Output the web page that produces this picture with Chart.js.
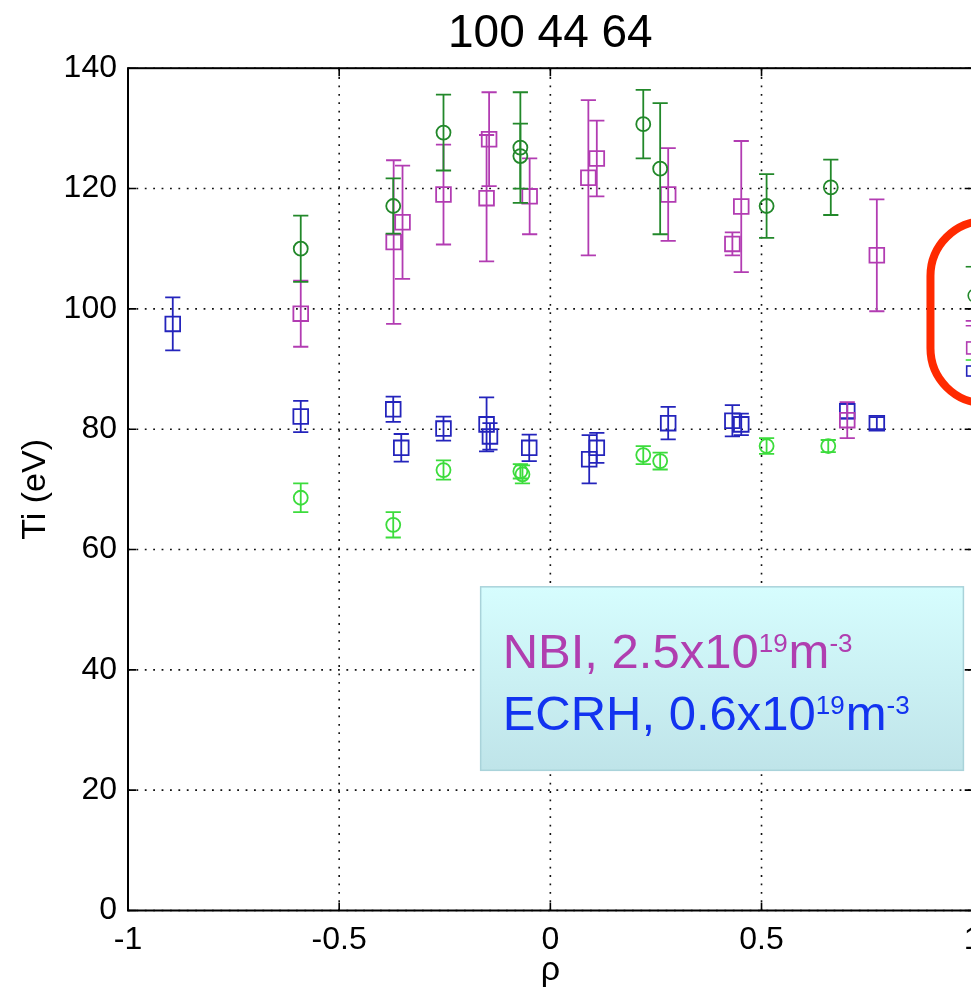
<!DOCTYPE html>
<html>
<head>
<meta charset="utf-8">
<script src="https://cdn.jsdelivr.net/npm/chart.js@4/dist/chart.umd.min.js"></script>
<style>
html,body{margin:0;padding:0;background:#fff;overflow:hidden;}
#wrap{width:971px;height:994px;position:relative;overflow:hidden;}
canvas{display:block;}
</style>
</head>
<body>
<div id="wrap"><canvas id="c" width="1000" height="994"></canvas></div>
<script>
// ---------------- data ----------------
const titleText = '100 44 64';
const xAxisTitle = 'ρ';
const yAxisTitle = 'Ti (eV)';
const xTickValues = [-1, -0.5, 0, 0.5, 1];
const yTickValues = [0, 20, 40, 60, 80, 100, 120, 140];

// NBI, dark green circles
const nbiCircX   = [-0.591, -0.372, -0.253, -0.071, -0.071, 0.220, 0.260, 0.512, 0.664];
const nbiCircY   = [110.0, 117.1, 129.3, 126.8, 125.4, 130.7, 123.3, 117.1, 120.2];
const nbiCircErr = [5.5, 4.6, 6.3, 9.2, 5.4, 5.7, 10.9, 5.3, 4.6];

// NBI, magenta squares
const nbiSqX   = [-0.591, -0.371, -0.350, -0.253, -0.145, -0.151, -0.049, 0.090, 0.110, 0.279, 0.431, 0.452, 0.703, 0.773];
const nbiSqY   = [99.2, 111.1, 114.4, 119.0, 128.2, 118.4, 118.7, 121.8, 125.0, 119.0, 110.8, 117.0, 81.5, 108.9];
const nbiSqErr = [5.5, 13.6, 9.4, 8.3, 7.8, 10.5, 6.3, 12.9, 6.3, 7.7, 1.9, 10.9, 3.0, 9.3];

// ECRH, light green circles
const ecrhCircX   = [-0.591, -0.372, -0.253, -0.071, -0.066, 0.220, 0.260, 0.512, 0.658];
const ecrhCircY   = [68.6, 64.1, 73.2, 73.0, 72.5, 75.7, 74.7, 77.2, 77.2];
const ecrhCircErr = [2.4, 2.1, 1.6, 1.2, 1.5, 1.5, 1.4, 1.3, 1.0];

// ECRH, blue squares
const ecrhSqX   = [-0.894, -0.591, -0.372, -0.353, -0.253, -0.151, -0.143, -0.050, 0.092, 0.110, 0.279, 0.431, 0.452, 0.703, 0.773];
const ecrhSqY   = [97.5, 82.1, 83.3, 76.9, 80.1, 80.8, 78.8, 76.9, 75.0, 76.9, 81.0, 81.4, 80.8, 83.0, 81.0];
const ecrhSqErr = [4.4, 2.6, 2.1, 2.3, 2.0, 4.5, 2.2, 2.2, 4.0, 2.5, 2.7, 2.6, 1.8, 1.2, 1.0];

// annotation text
const noteLine1 = ['NBI, 2.5x10', '19', 'm', '-3'];
const noteLine2 = ['ECRH, 0.6x10', '19', 'm', '-3'];

// ---------------- styling ----------------
const FONT = "'Liberation Sans', Arial, Helvetica, sans-serif";
const C_DKGREEN = '#22882a';
const C_MAGENTA = '#b23cb2';
const C_LTGREEN = '#3cdc3c';
const C_BLUE    = '#2424bc';

function pts(xs, ys) { return xs.map((x, i) => ({x: x, y: ys[i]})); }
function ds(label, xs, ys, errs, color, style, radius) {
  return {
    label: label,
    data: pts(xs, ys),
    errors: errs,
    showLine: false,
    pointStyle: style,
    pointRadius: radius,
    pointHoverRadius: radius,
    pointBorderWidth: 1.8,
    borderWidth: 1.8,
    borderColor: color,
    pointBorderColor: color,
    backgroundColor: 'rgba(0,0,0,0)',
    pointBackgroundColor: 'rgba(0,0,0,0)'
  };
}

// dotted grid lines (under the data)
const gridPlugin = {
  id: 'dottedGrid',
  beforeDatasetsDraw(chart) {
    const {ctx, chartArea: a, scales: {x, y}} = chart;
    ctx.save();
    ctx.strokeStyle = '#111';
    ctx.lineWidth = 1.6;
    ctx.setLineDash([1.8, 6.6]);
    x.ticks.forEach(t => {
      const px = x.getPixelForValue(t.value);
      ctx.beginPath(); ctx.moveTo(px, a.bottom); ctx.lineTo(px, a.top); ctx.stroke();
    });
    y.ticks.forEach(t => {
      const py = y.getPixelForValue(t.value);
      ctx.beginPath(); ctx.moveTo(a.left, py); ctx.lineTo(a.right, py); ctx.stroke();
    });
    ctx.restore();
  }
};

// vertical error bars for each dataset
const errorBars = {
  id: 'errorBars',
  afterDatasetDraw(chart, args) {
    const d = chart.data.datasets[args.index];
    if (!d.errors) return;
    const {ctx, chartArea: a} = chart;
    const ys = chart.scales.y;
    const cap = 7.6;
    ctx.save();
    ctx.beginPath(); ctx.rect(a.left, a.top, a.right - a.left, a.bottom - a.top); ctx.clip();
    ctx.strokeStyle = d.borderColor;
    ctx.lineWidth = 1.8;
    args.meta.data.forEach((el, i) => {
      const v = d.data[i].y, e = d.errors[i];
      const top = ys.getPixelForValue(v + e);
      const bot = ys.getPixelForValue(v - e);
      const px = el.x;
      ctx.beginPath();
      ctx.moveTo(px, top); ctx.lineTo(px, bot);
      ctx.moveTo(px - cap, top); ctx.lineTo(px + cap, top);
      ctx.moveTo(px - cap, bot); ctx.lineTo(px + cap, bot);
      ctx.stroke();
    });
    ctx.restore();
  }
};

// axes box with inward ticks, text box, legend fragment and red highlight
const overlay = {
  id: 'overlay',
  afterDatasetsDraw(chart) {
    const {ctx, chartArea: a, scales: {x, y}} = chart;
    ctx.save();
    ctx.strokeStyle = '#000';
    ctx.lineWidth = 2;
    ctx.setLineDash([]);
    ctx.strokeRect(a.left, a.top, a.right - a.left, a.bottom - a.top);
    const tl = 8;
    ctx.lineWidth = 1.6;
    x.ticks.forEach(t => {
      const px = x.getPixelForValue(t.value);
      ctx.beginPath();
      ctx.moveTo(px, a.bottom); ctx.lineTo(px, a.bottom - tl);
      ctx.moveTo(px, a.top); ctx.lineTo(px, a.top + tl);
      ctx.stroke();
    });
    y.ticks.forEach(t => {
      const py = y.getPixelForValue(t.value);
      ctx.beginPath();
      ctx.moveTo(a.left, py); ctx.lineTo(a.left + tl, py);
      ctx.moveTo(a.right, py); ctx.lineTo(a.right - tl, py);
      ctx.stroke();
    });
    ctx.restore();
  },
  afterDraw(chart) {
    const {ctx, scales: {x, y}} = chart;
    // ---- legend fragment (cut at the right edge of the picture) ----
    ctx.save();
    ctx.lineWidth = 1.6;
    const lx = x.getPixelForValue(1) - 7;
    const ly = v => y.getPixelForValue(v);
    ctx.strokeStyle = C_DKGREEN;
    ctx.beginPath(); ctx.moveTo(lx, ly(107)); ctx.lineTo(lx + 10, ly(107)); ctx.stroke();
    ctx.beginPath(); ctx.arc(lx + 9, ly(102.2), 6.5, 0, Math.PI * 2); ctx.stroke();
    ctx.strokeStyle = C_MAGENTA;
    ctx.beginPath(); ctx.moveTo(lx, ly(98)); ctx.lineTo(lx + 10, ly(98));
    ctx.moveTo(lx, ly(97.2)); ctx.lineTo(lx + 10, ly(97.2)); ctx.stroke();
    ctx.strokeRect(lx + 1, ly(94.5), 14, 12);
    ctx.strokeStyle = C_LTGREEN;
    ctx.beginPath(); ctx.moveTo(lx, ly(91.5)); ctx.lineTo(lx + 10, ly(91.5)); ctx.stroke();
    ctx.strokeStyle = C_BLUE;
    ctx.strokeRect(lx + 1, ly(90.5), 14, 10);
    ctx.restore();

    // ---- red highlight loop ----
    ctx.save();
    ctx.strokeStyle = '#ff2a00';
    ctx.lineWidth = 8;
    ctx.beginPath();
    const rx = x.getPixelForValue(0.9);
    const rTop = y.getPixelForValue(114.6);
    const rBot = y.getPixelForValue(84.3);
    if (ctx.roundRect) { ctx.roundRect(rx, rTop, 140, rBot - rTop, 55); }
    else { ctx.rect(rx, rTop, 140, rBot - rTop); }
    ctx.stroke();
    ctx.restore();

    // ---- annotation box ----
    const bx0 = x.getPixelForValue(-0.165), bx1 = x.getPixelForValue(0.978);
    const by0 = y.getPixelForValue(53.8), by1 = y.getPixelForValue(23.3);
    ctx.save();
    const g = ctx.createLinearGradient(0, by0, 0, by1);
    g.addColorStop(0, '#d6fdfe');
    g.addColorStop(1, '#bfe4e9');
    ctx.fillStyle = g;
    ctx.fillRect(bx0, by0, bx1 - bx0, by1 - by0);
    ctx.strokeStyle = '#a9d3da';
    ctx.lineWidth = 1.5;
    ctx.strokeRect(bx0, by0, bx1 - bx0, by1 - by0);

    function drawNote(parts, color, left, base) {
      ctx.fillStyle = color;
      ctx.textBaseline = 'alphabetic';
      ctx.textAlign = 'left';
      let cx = left;
      const big = '49px ' + FONT, small = '26px ' + FONT;
      parts.forEach((p, i) => {
        const sup = (i % 2 === 1);
        ctx.font = sup ? small : big;
        ctx.fillText(p, cx, sup ? base - 15.5 : base);
        cx += ctx.measureText(p).width + (sup ? 1 : 0);
      });
    }
    const tx = bx0 + 22;
    drawNote(noteLine1, '#b03eb0', tx, by0 + 81);
    drawNote(noteLine2, '#1233f0', tx, by0 + 143);
    ctx.restore();
  }
};

const chart = new Chart(document.getElementById('c').getContext('2d'), {
  type: 'scatter',
  data: {
    datasets: [
      ds('NBI (circles)', nbiCircX, nbiCircY, nbiCircErr, C_DKGREEN, 'circle', 7),
      ds('NBI (squares)', nbiSqX, nbiSqY, nbiSqErr, C_MAGENTA, 'rect', 10.4),
      ds('ECRH (circles)', ecrhCircX, ecrhCircY, ecrhCircErr, C_LTGREEN, 'circle', 7),
      ds('ECRH (squares)', ecrhSqX, ecrhSqY, ecrhSqErr, C_BLUE, 'rect', 10.4)
    ]
  },
  options: {
    responsive: false,
    animation: false,
    devicePixelRatio: 1,
    events: [],
    layout: {padding: {left: 0, right: 27.3, top: 0, bottom: 0}},
    plugins: {
      legend: {display: false},
      tooltip: {enabled: false},
      title: {
        display: true,
        fullSize: false,
        text: titleText,
        color: '#000',
        font: {family: FONT, size: 46, weight: 'normal'},
        padding: {top: 7, bottom: 6}
      }
    },
    scales: {
      x: {
        type: 'linear',
        min: -1, max: 1,
        afterBuildTicks(s) { s.ticks = xTickValues.map(v => ({value: v})); },
        ticks: {
          color: '#000',
          font: {family: FONT, size: 32},
          padding: 10,
          maxRotation: 0,
          autoSkip: false,
          callback: v => String(v)
        },
        grid: {display: false, drawTicks: false},
        border: {display: false},
        title: {display: true, text: xAxisTitle, color: '#000', font: {family: FONT, size: 34}, padding: {top: 0, bottom: 3}},
        afterFit(s) { s.height = 83.5; s.paddingLeft = 0; s.paddingRight = 0; }
      },
      y: {
        type: 'linear',
        min: 0, max: 140,
        afterBuildTicks(s) { s.ticks = yTickValues.map(v => ({value: v})); },
        ticks: {
          color: '#000',
          font: {family: FONT, size: 32},
          padding: 11,
          autoSkip: false,
          callback: v => String(v)
        },
        grid: {display: false, drawTicks: false},
        border: {display: false},
        title: {display: true, text: yAxisTitle, color: '#000', font: {family: FONT, size: 34}, padding: {top: 15, bottom: 0}},
        afterFit(s) { s.width = 128; s.paddingTop = 0; s.paddingBottom = 0; }
      }
    }
  },
  plugins: [gridPlugin, errorBars, overlay]
});
</script>
</body>
</html>
